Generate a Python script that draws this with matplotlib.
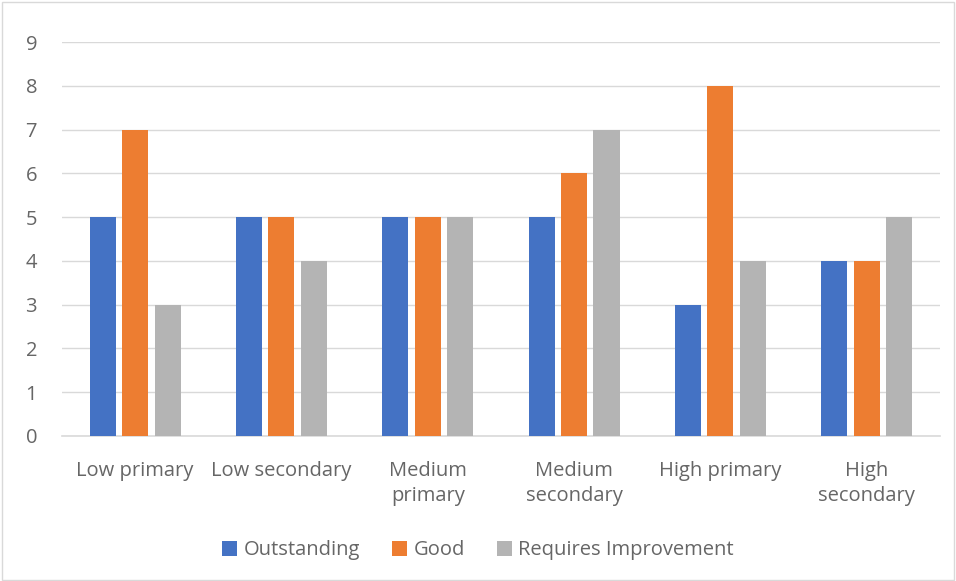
import matplotlib
matplotlib.use("Agg")
import matplotlib.pyplot as plt
import numpy as np
from matplotlib.patches import Rectangle

categories = ["Low primary", "Low secondary", "Medium\nprimary", "Medium\nsecondary", "High primary", "High\nsecondary"]
series_names = ["Outstanding", "Good", "Requires Improvement"]
outstanding = [5, 5, 5, 5, 3, 4]
good = [7, 5, 5, 6, 8, 4]
requires_improvement = [3, 4, 5, 7, 4, 5]
colors = ["#4472C4", "#ED7D31", "#B4B4B4"]
yticks = list(range(0, 10))
text_color = "#666666"

plt.rcParams['font.family'] = ['Open Sans', 'DejaVu Sans']

fig = plt.figure(figsize=(9.56, 5.81), dpi=100)
fig.patch.set_facecolor("white")
fig.add_artist(Rectangle((0.002, 0.002), 0.996, 0.994, transform=fig.transFigure,
                         fill=False, edgecolor="#D9D9D9", linewidth=1))
ax = fig.add_axes([0.0649, 0.2496, 0.9181, 0.6781])

x = np.arange(len(categories))
w = 0.178
step = 0.222
for i, (vals, name) in enumerate(zip([outstanding, good, requires_improvement], series_names)):
    ax.bar(x + (i - 1) * step, vals, width=w, color=colors[i], label=name, zorder=3)

ax.set_xlim(-0.5, len(categories) - 0.5)
ax.set_ylim(0, 9)
ax.set_yticks(yticks)
ax.set_yticklabels([str(t) for t in yticks], fontsize=14.5, color=text_color)
ax.set_xticks(x)
ax.set_xticklabels(categories, fontsize=14.5, color=text_color, linespacing=1.35)
ax.tick_params(axis="both", length=0)
ax.tick_params(axis="x", pad=18)
ax.tick_params(axis="y", pad=18)
ax.grid(axis="y", color="#D9D9D9", linewidth=1, zorder=0)
for s in ["top", "right", "left"]:
    ax.spines[s].set_visible(False)
ax.spines["bottom"].set_color("#D9D9D9")
ax.spines["bottom"].set_linewidth(1.2)

fig.legend(loc="center", bbox_to_anchor=(0.5, 0.053), ncol=3, frameon=False,
           fontsize=14.5, handlelength=0.75, handleheight=0.75, handletextpad=0.3,
           columnspacing=1.6, labelcolor=text_color)

fig.savefig("out.png", dpi=100)
